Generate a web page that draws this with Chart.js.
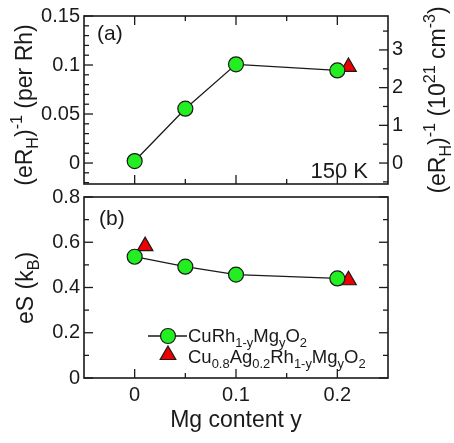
<!DOCTYPE html>
<html>
<head>
<meta charset="utf-8">
<script src="https://cdn.jsdelivr.net/npm/chart.js@4.4.1/dist/chart.umd.min.js"></script>
<style>
  body { margin: 0; background: #fff; }
  #wrap { position: relative; width: 454px; height: 443px; }
  canvas { position: absolute; left: 0; }
  #hallChart { top: 0; }
  #seebeckChart { top: 175px; }
</style>
</head>
<body>
<div id="wrap">
  <canvas id="hallChart" width="454" height="200" style="width:454px;height:200px"></canvas>
  <canvas id="seebeckChart" width="454" height="268" style="width:454px;height:268px"></canvas>
</div>
<script>
// Mg content y of the samples
var mgContent = [0, 0.05, 0.1, 0.2];
var mgContentAgHall = [0.211];
var mgContentAgS = [0.0103, 0.211];

// panel (a): (eR_H)^-1 per Rh
var hallCuRh = [0.002, 0.0554, 0.1007, 0.0945];
var hallCuAg = [0.098];

// panel (b): eS in k_B
var seebeckCuRh = [0.536, 0.492, 0.457, 0.44];
var seebeckCuAg = [0.583, 0.432];

// tick positions
var xMajor = [0, 0.1, 0.2];
var xMinor = [0.05, 0.15];
var hallMajor = [0, 0.05, 0.1, 0.15];
var hallMinor = [-0.02, -0.01, 0.01, 0.02, 0.03, 0.04, 0.06, 0.07, 0.08, 0.09, 0.11, 0.12, 0.13, 0.14];
var carrierMajor = [0, 1, 2, 3];
var carrierMinor = [-0.5, 0.5, 1.5, 2.5, 3.5];
var seebeckMajor = [0, 0.2, 0.4, 0.6, 0.8];
var seebeckMinor = [0.1, 0.3, 0.5, 0.7];

var hallMin = -0.0214, hallMax = 0.15;
var perRhPer1e21 = 0.03846;   // 1e21 cm^-3 expressed per Rh

var FONT = "'Liberation Sans', Arial, sans-serif";
var green = '#22ee22', red = '#ee0000', ink = '#1a1a1a';

function pts(xs, ys) {
  return xs.map(function (x, i) { return { x: x, y: ys[i] }; });
}

// text with sub/superscripts; y is the baseline
function richWidth(ctx, parts, size) {
  var w = 0;
  parts.forEach(function (p) {
    var s = p[1] ? size * 0.7 : size;
    ctx.font = s + 'px ' + FONT;
    w += ctx.measureText(p[0]).width;
  });
  return w;
}
function drawRich(ctx, parts, x, y, size, align) {
  var w = richWidth(ctx, parts, size);
  if (align === 'center') x -= w / 2;
  ctx.textAlign = 'left';
  ctx.textBaseline = 'alphabetic';
  parts.forEach(function (p) {
    var s = p[1] ? size * 0.7 : size;
    var dy = p[1] === 'sub' ? size * 0.25 : (p[1] === 'sup' ? -size * 0.42 : 0);
    ctx.font = s + 'px ' + FONT;
    ctx.fillText(p[0], x, y + dy);
    x += ctx.measureText(p[0]).width;
  });
}
function drawRotated(ctx, parts, cx, cy, size) {
  ctx.save();
  ctx.translate(cx, cy);
  ctx.rotate(-Math.PI / 2);
  drawRich(ctx, parts, 0, size * 0.35, size, 'center');
  ctx.restore();
}

function marks(ctx, scale, values, len, edge, a) {
  values.forEach(function (v) {
    if (v < scale.min || v > scale.max) return;
    var p = scale.getPixelForValue(v);
    ctx.beginPath();
    if (edge === 'left') { ctx.moveTo(a.left, p); ctx.lineTo(a.left + len, p); }
    if (edge === 'right') { ctx.moveTo(a.right, p); ctx.lineTo(a.right - len, p); }
    if (edge === 'top') { ctx.moveTo(p, a.top); ctx.lineTo(p, a.top + len); }
    if (edge === 'bottom') { ctx.moveTo(p, a.bottom); ctx.lineTo(p, a.bottom - len); }
    ctx.stroke();
  });
}

var frameTicks = {
  id: 'frameTicks',
  afterDraw: function (chart, args, opts) {
    var ctx = chart.ctx, a = chart.chartArea;
    ctx.save();
    ctx.strokeStyle = ink;
    ctx.lineWidth = 1.3;
    opts.sets.forEach(function (s) {
      var sc = chart.scales[s.scale];
      s.edges.forEach(function (e) {
        marks(ctx, sc, s.major, 9, e, a);
        marks(ctx, sc, s.minor, 5, e, a);
      });
    });
    ctx.lineWidth = 1.6;
    ctx.strokeRect(a.left, a.top, a.right - a.left, a.bottom - a.top);
    ctx.fillStyle = ink;
    if (opts.extra) opts.extra(ctx, chart);
    ctx.restore();
  }
};

function fixWidth(w) { return function (scale) { scale.width = w; }; }
function fixHeight(h) { return function (scale) { scale.height = h; }; }
function useTicks(values) {
  return function (scale) { scale.ticks = values.map(function (v) { return { value: v }; }); };
}
function fmt(v) { return String(+v.toFixed(3)); }

var tickFont = { family: FONT, size: 20 };

new Chart(document.getElementById('hallChart'), {
  type: 'line',
  data: {
    datasets: [
      {
        data: pts(mgContent, hallCuRh),
        yAxisID: 'y',
        borderColor: ink, borderWidth: 1.3,
        pointStyle: 'circle', pointRadius: 7.5, pointBorderWidth: 1.2,
        pointBackgroundColor: green, pointBorderColor: ink
      },
      {
        data: pts(mgContentAgHall, hallCuAg),
        yAxisID: 'y',
        showLine: false,
        pointStyle: 'triangle', pointRadius: 9, pointBorderWidth: 1.2,
        pointBackgroundColor: red, pointBorderColor: ink
      }
    ]
  },
  options: {
    responsive: false,
    animation: false,
    layout: { padding: { top: 13, bottom: 3, left: 0, right: 0 } },
    plugins: {
      legend: { display: false },
      tooltip: { enabled: false },
      frameTicks: {
        sets: [
          { scale: 'x', major: xMajor, minor: xMinor, edges: ['top', 'bottom'] },
          { scale: 'y', major: hallMajor, minor: hallMinor, edges: ['left'] },
          { scale: 'y1', major: carrierMajor, minor: carrierMinor, edges: ['right'] }
        ],
        extra: function (ctx, chart) {
          ctx.font = '21px ' + FONT;
          ctx.textAlign = 'left'; ctx.textBaseline = 'alphabetic';
          ctx.fillText('(a)', 97, 40);
          ctx.textAlign = 'right';
          ctx.font = '22px ' + FONT;
          ctx.fillText('150 K', 368, 178);
          drawRotated(ctx, [['(eR', ''], ['H', 'sub'], [')', ''], ['-1', 'sup'], [' (per Rh)', '']], 24, 105, 23);
          drawRotated(ctx, [['(eR', ''], ['H', 'sub'], [')', ''], ['-1', 'sup'], [' (10', ''], ['21', 'sup'],
            [' cm', ''], ['-3', 'sup'], [')', '']], 437, 100, 23);
        }
      }
    },
    scales: {
      x: { type: 'linear', min: -0.05, max: 0.25, display: false },
      y: {
        position: 'left', min: hallMin, max: hallMax,
        afterFit: fixWidth(84),
        afterBuildTicks: useTicks(hallMajor),
        grid: { display: false, drawTicks: false }, border: { display: false },
        ticks: { padding: 4, font: tickFont, color: ink, callback: fmt }
      },
      y1: {
        position: 'right', min: hallMin / perRhPer1e21, max: hallMax / perRhPer1e21,
        afterFit: fixWidth(66),
        afterBuildTicks: useTicks(carrierMajor),
        grid: { display: false, drawTicks: false }, border: { display: false },
        ticks: { padding: 4, font: tickFont, color: ink, callback: fmt }
      }
    }
  },
  plugins: [frameTicks]
});

new Chart(document.getElementById('seebeckChart'), {
  type: 'line',
  data: {
    datasets: [
      {
        data: pts(mgContent, seebeckCuRh),
        borderColor: ink, borderWidth: 1.3,
        pointStyle: 'circle', pointRadius: 7.5, pointBorderWidth: 1.2,
        pointBackgroundColor: green, pointBorderColor: ink
      },
      {
        data: pts(mgContentAgS, seebeckCuAg),
        showLine: false,
        pointStyle: 'triangle', pointRadius: 9, pointBorderWidth: 1.2,
        pointBackgroundColor: red, pointBorderColor: ink
      }
    ]
  },
  options: {
    responsive: false,
    animation: false,
    layout: { padding: { top: 22, bottom: 0, left: 0, right: 66 } },
    plugins: {
      legend: { display: false },
      tooltip: { enabled: false },
      frameTicks: {
        sets: [
          { scale: 'x', major: xMajor, minor: xMinor, edges: ['bottom'] },
          { scale: 'y', major: seebeckMajor, minor: seebeckMinor, edges: ['left', 'right'] }
        ],
        extra: function (ctx, chart) {
          ctx.font = '21px ' + FONT;
          ctx.textAlign = 'left'; ctx.textBaseline = 'alphabetic';
          ctx.fillText('(b)', 99, 50);
          drawRotated(ctx, [['eS (k', ''], ['B', 'sub'], [')', '']], 25, 113, 23);

          // legend
          ctx.strokeStyle = ink; ctx.lineWidth = 1.3;
          ctx.beginPath(); ctx.moveTo(148, 161); ctx.lineTo(187, 161); ctx.stroke();
          ctx.beginPath(); ctx.arc(168, 161, 7.5, 0, Math.PI * 2);
          ctx.fillStyle = green; ctx.fill(); ctx.lineWidth = 1.2; ctx.stroke();
          var r = 9, tx = 168, ty = 180;
          ctx.beginPath();
          ctx.moveTo(tx, ty - r);
          ctx.lineTo(tx + r * 0.866, ty + r / 2);
          ctx.lineTo(tx - r * 0.866, ty + r / 2);
          ctx.closePath();
          ctx.fillStyle = red; ctx.fill(); ctx.stroke();
          ctx.fillStyle = ink;
          drawRich(ctx, [['CuRh', ''], ['1-y', 'sub'], ['Mg', ''], ['y', 'sub'], ['O', ''], ['2', 'sub']], 188, 167, 18.5, 'left');
          drawRich(ctx, [['Cu', ''], ['0.8', 'sub'], ['Ag', ''], ['0.2', 'sub'], ['Rh', ''], ['1-y', 'sub'],
            ['Mg', ''], ['y', 'sub'], ['O', ''], ['2', 'sub']], 188, 188, 18.5, 'left');
        }
      }
    },
    scales: {
      x: {
        type: 'linear', min: -0.05, max: 0.25, position: 'bottom',
        afterFit: fixHeight(65),
        afterBuildTicks: useTicks(xMajor),
        grid: { display: false, drawTicks: false }, border: { display: false },
        ticks: { padding: 5, font: tickFont, color: ink, callback: fmt },
        title: { display: true, text: 'Mg content y', color: ink, font: { family: FONT, size: 23 }, padding: { top: 0, bottom: 9 } }
      },
      y: {
        position: 'left', min: 0, max: 0.8,
        afterFit: fixWidth(84),
        afterBuildTicks: useTicks(seebeckMajor),
        grid: { display: false, drawTicks: false }, border: { display: false },
        ticks: { padding: 4, font: tickFont, color: ink, callback: fmt }
      }
    }
  },
  plugins: [frameTicks]
});
</script>
</body>
</html>
